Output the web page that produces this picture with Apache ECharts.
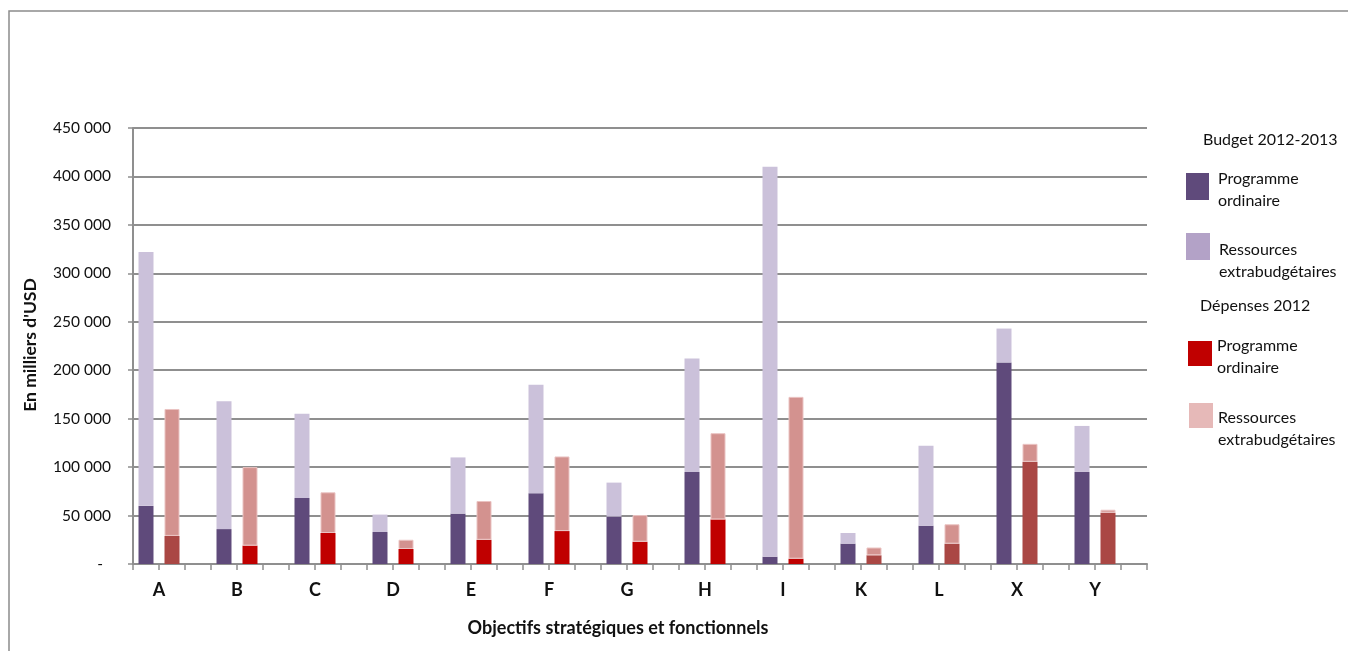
<!DOCTYPE html>
<html lang="fr">
<head>
<meta charset="utf-8">
<title>Budget 2012-2013 et dépenses 2012 par objectif</title>
<script src="https://cdn.jsdelivr.net/npm/echarts@6/dist/echarts.min.js"></script>
<style>
  html, body { margin: 0; padding: 0; background: #ffffff; }
  #chart { width: 1348px; height: 651px; }
</style>
</head>
<body>
<div id="chart"></div>
<script>
// Objectifs stratégiques et fonctionnels
const categories = ['A', 'B', 'C', 'D', 'E', 'F', 'G', 'H', 'I', 'K', 'L', 'X', 'Y'];

// Budget 2012-2013 (en milliers d'USD)
const budgetOrdinaire = [60000, 36000, 68000, 33000, 52000, 73000, 49000, 95000, 7500, 21000, 39500, 208000, 95000];
const budgetExtra     = [262000, 132000, 87000, 18000, 58000, 112000, 35000, 117000, 402500, 11000, 82500, 35000, 47500];

// Dépenses 2012 (en milliers d'USD)
const depensesOrdinaire = [29000, 19000, 32000, 15500, 25000, 34000, 23000, 46000, 5500, 9000, 21000, 105500, 53000];
const depensesExtra     = [131000, 81000, 42000, 9500, 40000, 77000, 27500, 89000, 167000, 8000, 20000, 18500, 3000];

// Axe des valeurs
const yMin = 0;
const yMax = 450000;
const yStep = 50000;

// Each objective takes three slots: budget bar, expenditure bar, gap
const SLOTS = 3;
const slotNames = [];
categories.forEach(c => { slotNames.push(c, c + '#2', c + '#3'); });

function spread(values, offset) {
  const out = new Array(categories.length * SLOTS).fill('-');
  values.forEach((v, i) => { out[i * SLOTS + offset] = v; });
  return out;
}

// Regular-programme expenditure: darker shade for these objectives
const shadedObjectives = new Set(['A', 'K', 'L', 'X', 'Y']);
function depOrdinaireData() {
  const out = new Array(categories.length * SLOTS).fill('-');
  depensesOrdinaire.forEach((v, i) => {
    out[i * SLOTS + 1] = {
      value: v,
      itemStyle: { color: shadedObjectives.has(categories[i]) ? '#AA4744' : '#C00000' }
    };
  });
  return out;
}

const FONT = 'Lato, "Open Sans", sans-serif';
const INK = '#111111';
const GRID_GREY = '#8f8f8f';

function fmtThousands(v) {
  if (v === 0) return '-  ';
  return String(v).replace(/\B(?=(\d{3})+(?!\d))/g, ' ');
}

const legendLines = {
  bPO: ['Programme', 'ordinaire'],
  bXB: ['Ressources', 'extrabudgétaires'],
  dPO: ['Programme', 'ordinaire'],
  dXB: ['Ressources', 'extrabudgétaires']
};

// One legend block per entry. A thin spacer line above the label pushes
// it down by `shift` px; the block top is corrected so the swatch sits at iconTop.
function legendBlock(name, color, left, iconTop, iconW, iconH, shift, gap) {
  const spacer = 2 * shift;
  const textH = 44 + spacer;
  const lift = Math.max(0, textH / 2 - iconH / 2);
  return {
    orient: 'vertical',
    left: left,
    top: iconTop - lift,
    padding: 0,
    itemWidth: iconW,
    itemHeight: iconH,
    selectedMode: false,
    data: [{ name: name, icon: 'rect', itemStyle: { color: color, borderWidth: 0 } }],
    formatter: n => '{s| }\n' + legendLines[n].map(l => '{t|' + l + '}').join('\n'),
    textStyle: {
      fontFamily: FONT, fontSize: 16, color: INK,
      rich: {
        s: { fontSize: 1, lineHeight: spacer, height: spacer },
        t: { fontFamily: FONT, fontSize: 16, color: INK, lineHeight: 22, padding: [0, 0, 0, gap] }
      }
    }
  };
}

const chart = echarts.init(document.getElementById('chart'), null, { renderer: 'canvas' });

chart.setOption({
  backgroundColor: '#ffffff',
  animation: false,
  grid: { left: 133, right: 201, top: 128, bottom: 87, containLabel: false },
  xAxis: {
    type: 'category',
    data: slotNames,
    boundaryGap: true,
    axisLine: { show: true, lineStyle: { color: GRID_GREY, width: 2 } },
    axisTick: { show: true, interval: 0, length: 6, lineStyle: { color: GRID_GREY, width: 1.5 } },
    axisLabel: {
      interval: (idx) => idx % SLOTS === 0,
      formatter: v => v.split('#')[0],
      fontFamily: FONT, fontSize: 18, fontWeight: 'bold', color: INK,
      margin: 17,
      padding: [0, 0, 0, 26]
    },
    splitLine: { show: false }
  },
  yAxis: {
    type: 'value',
    min: yMin,
    max: yMax,
    interval: yStep,
    axisLine: { show: true, lineStyle: { color: GRID_GREY, width: 2 } },
    axisTick: { show: true, length: 5, lineStyle: { color: GRID_GREY, width: 1.5 } },
    axisLabel: {
      formatter: fmtThousands,
      fontFamily: FONT, fontSize: 15.5, color: INK,
      margin: 22
    },
    splitLine: { show: true, lineStyle: { color: GRID_GREY, width: 2 } }
  },
  legend: [
    legendBlock('bPO', '#5F4A7B', 1186, 173, 23, 27, 3.5, 4),
    legendBlock('bXB', '#B3A2C7', 1186, 233, 24, 27, 14, 4),
    legendBlock('dPO', '#C00000', 1188, 341, 24, 25, 3, 0),
    legendBlock('dXB', '#E6B9B8', 1189, 403, 24, 25, 13, 0)
  ],
  series: [
    {
      name: 'bPO', type: 'bar', stack: 'total', barWidth: 15,
      itemStyle: { color: '#5F4A7B' },
      data: spread(budgetOrdinaire, 0)
    },
    {
      name: 'bXB', type: 'bar', stack: 'total', barWidth: 15,
      itemStyle: { color: '#CBC1DA' },
      data: spread(budgetExtra, 0)
    },
    {
      name: 'dPO', type: 'bar', stack: 'total', barWidth: 15,
      itemStyle: { color: '#C00000' },
      data: depOrdinaireData()
    },
    {
      name: 'dXB', type: 'bar', stack: 'total', barWidth: 15,
      itemStyle: { color: '#D3928F', borderColor: '#EAC3C2', borderWidth: 1 },
      data: spread(depensesExtra, 1)
    }
  ],
  graphic: [
    {
      type: 'rect', silent: true, z: -1,
      shape: { x: 9, y: 11, width: 1400, height: 700 },
      style: { fill: 'none', stroke: '#8c8c8c', lineWidth: 1.5 }
    },
    {
      type: 'text', x: 1203, y: 140,
      style: { text: 'Budget 2012-2013', font: '16px ' + FONT, fill: INK, verticalAlign: 'middle' }
    },
    {
      type: 'text', x: 1200, y: 306,
      style: { text: 'Dépenses 2012', font: '16px ' + FONT, fill: INK, verticalAlign: 'middle' }
    },
    {
      type: 'text', x: 618, y: 628,
      style: {
        text: 'Objectifs stratégiques et fonctionnels',
        font: 'bold 18px ' + FONT, fill: INK, align: 'center', verticalAlign: 'middle'
      }
    },
    {
      type: 'text', x: 30, y: 345, rotation: Math.PI / 2,
      style: {
        text: "En milliers d'USD",
        font: 'bold 17.5px ' + FONT, fill: INK, align: 'center', verticalAlign: 'middle'
      }
    }
  ]
});
</script>
</body>
</html>
